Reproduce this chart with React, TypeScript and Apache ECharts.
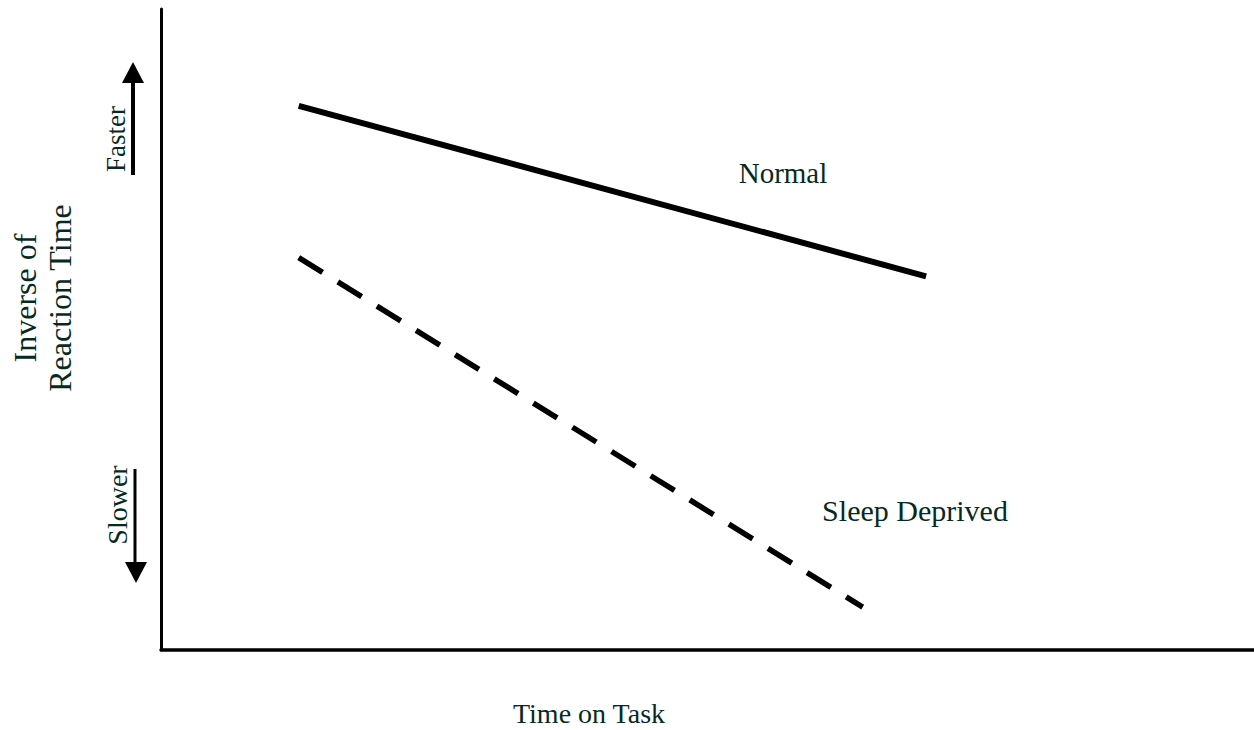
import React, { useEffect, useRef } from "react";
import * as echarts from "echarts";

// Conceptual chart: time on task (x) vs inverse of reaction time (y), 0-100 scale
const normalTime = [12.6, 70.0];
const normalSpeed = [84.9, 58.3];
const deprivedTime = [12.6, 64.2];
const deprivedSpeed = [61.2, 6.7];
const seriesNames = ["Normal", "Sleep Deprived"];
const xTitle = "Time on Task";
const yTitle = "Inverse of\nReaction Time";
const upLabel = "Faster";
const downLabel = "Slower";

const TXT = "#072a1f";
const FONT = "'Liberation Serif', 'Times New Roman', serif";

export default function App() {
  const ref = useRef<HTMLDivElement>(null);
  useEffect(() => {
    const chart = echarts.init(ref.current!, null, { renderer: "svg" });
    const pair = (xs: number[], ys: number[]) => xs.map((x, i) => [x, ys[i]]);
    chart.setOption({
      animation: false,
      backgroundColor: "#ffffff",
      grid: { left: 161, right: 0, top: 9, bottom: 80 },
      xAxis: {
        type: "value",
        min: 0,
        max: 100,
        axisLine: { show: true, lineStyle: { color: "#000", width: 3.5 } },
        axisTick: { show: false },
        axisLabel: { show: false },
        splitLine: { show: false },
      },
      yAxis: {
        type: "value",
        min: 0,
        max: 100,
        axisLine: { show: true, lineStyle: { color: "#000", width: 3 } },
        axisTick: { show: false },
        axisLabel: { show: false },
        splitLine: { show: false },
      },
      series: [
        {
          name: seriesNames[0],
          type: "line",
          data: pair(normalTime, normalSpeed),
          symbol: "none",
          lineStyle: { color: "#000", width: 6, cap: "butt" },
        },
        {
          name: seriesNames[1],
          type: "line",
          data: pair(deprivedTime, deprivedSpeed),
          symbol: "none",
          lineStyle: { color: "#000", width: 5.5, type: [28, 18], cap: "butt" },
        },
      ],
      graphic: [
        {
          type: "text",
          x: 42,
          y: 298,
          rotation: Math.PI / 2,
          style: {
            text: yTitle,
            font: `32px ${FONT}`,
            fill: TXT,
            align: "center",
            verticalAlign: "middle",
            lineHeight: 35,
          },
        },
        {
          type: "text",
          x: 116,
          y: 139,
          rotation: Math.PI / 2,
          style: { text: upLabel, font: `27px ${FONT}`, fill: TXT, align: "center", verticalAlign: "middle" },
        },
        {
          type: "text",
          x: 117,
          y: 505,
          rotation: Math.PI / 2,
          style: { text: downLabel, font: `28px ${FONT}`, fill: TXT, align: "center", verticalAlign: "middle" },
        },
        {
          type: "line",
          shape: { x1: 133, y1: 175, x2: 133, y2: 80 },
          style: { stroke: "#000", lineWidth: 4 },
        },
        {
          type: "polygon",
          shape: { points: [[122, 83], [144, 83], [133, 62]] },
          style: { fill: "#000" },
        },
        {
          type: "line",
          shape: { x1: 135, y1: 469, x2: 135, y2: 565 },
          style: { stroke: "#000", lineWidth: 3 },
        },
        {
          type: "polygon",
          shape: { points: [[125, 562], [147, 562], [136, 583]] },
          style: { fill: "#000" },
        },
        {
          type: "text",
          x: 783,
          y: 173,
          style: { text: seriesNames[0], font: `29px ${FONT}`, fill: TXT, align: "center", verticalAlign: "middle" },
        },
        {
          type: "text",
          x: 915,
          y: 510,
          style: { text: seriesNames[1], font: `30px ${FONT}`, fill: TXT, align: "center", verticalAlign: "middle" },
        },
        {
          type: "text",
          x: 589,
          y: 713,
          style: { text: xTitle, font: `28px ${FONT}`, fill: TXT, align: "center", verticalAlign: "middle" },
        },
      ],
    });
    return () => chart.dispose();
  }, []);
  return (
    <div
      ref={ref}
      style={{ position: "fixed", left: 0, top: 0, width: 1254, height: 730 }}
    />
  );
}
